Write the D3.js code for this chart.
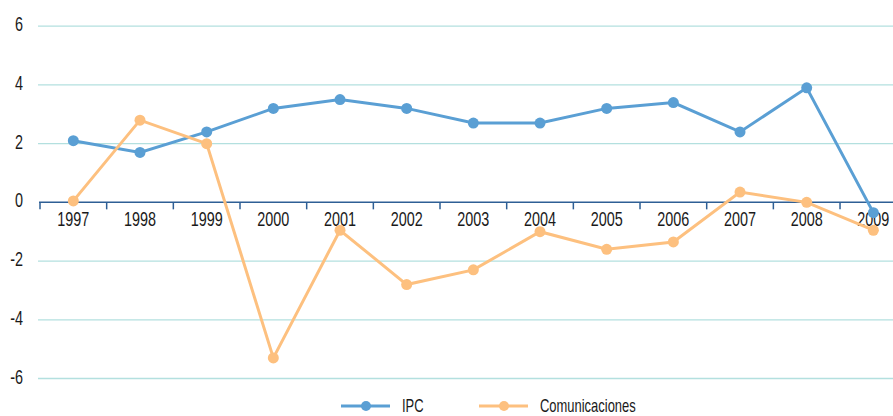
<!DOCTYPE html>
<html>
<head>
<meta charset="utf-8">
<script src="https://cdn.jsdelivr.net/npm/d3@7"></script>
<style>
  body { margin: 0; background: #fff; }
  text { font-family: "Liberation Sans", Arial, sans-serif; fill: #1a1a1a; }
</style>
</head>
<body>
<svg id="chart" width="893" height="416"></svg>
<script>
// years on the x axis
const years = ['1997', '1998', '1999', '2000', '2001', '2002', '2003', '2004', '2005', '2006', '2007', '2008', '2009'];
// series values
const ipc = [2.1, 1.7, 2.4, 3.2, 3.5, 3.2, 2.7, 2.7, 3.2, 3.4, 2.4, 3.9, -0.35];
const comunicaciones = [0.05, 2.8, 2.0, -5.3, -0.95, -2.8, -2.3, -1.0, -1.6, -1.35, 0.35, 0.0, -0.95];
const yTicks = [-6, -4, -2, 0, 2, 4, 6];

const seriesNames = ['IPC', 'Comunicaciones'];
const seriesColors = ['#5a9fd4', '#fdc07f'];

const svg = d3.select('#chart');
const width = 893, height = 416;
const squeeze = 0.72; // the original uses a condensed face, so squash the text horizontally

// band scale, the last band runs past the right edge like in the original
const x = d3.scaleBand()
  .domain(years)
  .range([40, 906.7]);

const y = d3.scaleLinear()
  .domain([-6, 6])
  .range([378.5, 26.2]);

// gridlines
svg.append('g')
  .selectAll('line')
  .data(yTicks.filter(d => d !== 0))
  .join('line')
    .attr('x1', 38)
    .attr('x2', width)
    .attr('y1', d => y(d))
    .attr('y2', d => y(d))
    .attr('stroke', '#b3e0df')
    .attr('stroke-width', 1.3);

// y labels
svg.append('g')
  .selectAll('text')
  .data(yTicks)
  .join('text')
    .attr('transform', d => `translate(23, ${y(d) - 2}) scale(${squeeze}, 1)`)
    .attr('dy', '0.35em')
    .attr('text-anchor', 'end')
    .attr('font-size', 20)
    .text(d => d);

// x axis at zero, with ticks between the years
const axisY = y(0);
const xAxis = svg.append('g');
xAxis.append('line')
  .attr('x1', 39)
  .attr('x2', width)
  .attr('y1', axisY)
  .attr('y2', axisY)
  .attr('stroke', '#2e5f95')
  .attr('stroke-width', 1.5);
xAxis.selectAll('line.tk')
  .data(years)
  .join('line')
    .attr('class', 'tk')
    .attr('x1', d => x(d))
    .attr('x2', d => x(d))
    .attr('y1', axisY)
    .attr('y2', axisY + 7)
    .attr('stroke', '#2e5f95')
    .attr('stroke-width', 1.5);
xAxis.selectAll('text')
  .data(years)
  .join('text')
    .attr('transform', d => `translate(${x(d) + x.bandwidth() / 2}, ${axisY + 17}) scale(${squeeze}, 1)`)
    .attr('dy', '0.35em')
    .attr('text-anchor', 'middle')
    .attr('font-size', 20)
    .text(d => d);

// lines and markers
const line = d3.line()
  .x((d, i) => x(years[i]) + x.bandwidth() / 2)
  .y(d => y(d));

[ipc, comunicaciones].forEach((values, s) => {
  const g = svg.append('g');
  g.append('path')
    .datum(values)
    .attr('fill', 'none')
    .attr('stroke', seriesColors[s])
    .attr('stroke-width', 3)
    .attr('d', line);
  g.selectAll('circle')
    .data(values)
    .join('circle')
      .attr('cx', (d, i) => x(years[i]) + x.bandwidth() / 2)
      .attr('cy', d => y(d))
      .attr('r', 5.5)
      .attr('fill', seriesColors[s]);
});

// legend at the bottom
const legendX = [341, 479];
const legend = svg.append('g')
  .selectAll('g')
  .data(seriesNames)
  .join('g')
    .attr('transform', (d, i) => `translate(${legendX[i]}, 406)`);
legend.append('line')
  .attr('x1', 0)
  .attr('x2', 49)
  .attr('stroke', (d, i) => seriesColors[i])
  .attr('stroke-width', 3);
legend.append('circle')
  .attr('cx', 25)
  .attr('r', 5)
  .attr('fill', (d, i) => seriesColors[i]);
legend.append('text')
  .attr('transform', `translate(61, 0) scale(${squeeze}, 1)`)
  .attr('dy', '0.33em')
  .attr('font-size', 18)
  .text(d => d);
</script>
</body>
</html>
